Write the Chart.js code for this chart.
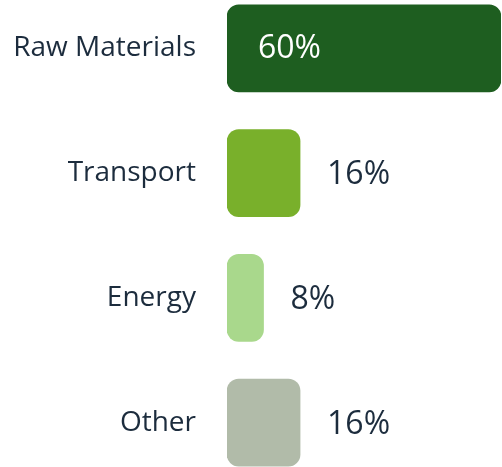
<!DOCTYPE html>
<html>
<head>
<meta charset="utf-8">
<script src="https://cdn.jsdelivr.net/npm/chart.js@4"></script>
<style>
  html, body { margin: 0; padding: 0; background: #fff; overflow: hidden; }
  #wrap { position: absolute; left: 0; top: -14px; width: 502px; height: 499px; }
</style>
</head>
<body>
<div id="wrap"><canvas id="chart"></canvas></div>
<script>
const categories = ['Raw Materials', 'Transport', 'Energy', 'Other'];
const shares = [60, 16, 8, 16];
const barColors = ['#1e5e20', '#79b02b', '#a9d88c', '#b1bba9'];

const textDark = '#1c2c3d';

// draws the percentage next to (or inside) each bar
const valueLabels = {
  id: 'valueLabels',
  afterDatasetsDraw(chart) {
    const ctx = chart.ctx;
    const meta = chart.getDatasetMeta(0);
    const max = Math.max(...shares);
    ctx.save();
    ctx.font = '32px "Open Sans"';
    ctx.textBaseline = 'middle';
    ctx.textAlign = 'left';
    meta.data.forEach(function (bar, i) {
      const v = shares[i];
      const txt = v + '%';
      if (v === max) {
        ctx.fillStyle = '#ffffff';
        ctx.fillText(txt, bar.base + 31, bar.y + 1);
      } else {
        ctx.fillStyle = textDark;
        ctx.fillText(txt, bar.x + 27, bar.y + 2);
      }
    });
    ctx.restore();
  }
};

const data = {
  labels: categories,
  datasets: [{
    data: shares,
    backgroundColor: barColors,
    borderRadius: 12,
    borderSkipped: false,
    barThickness: 87
  }]
};

const config = {
  type: 'bar',
  data: data,
  options: {
    indexAxis: 'y',
    responsive: true,
    maintainAspectRatio: false,
    animation: false,
    layout: { padding: { left: 0, right: 1, top: 0, bottom: 0 } },
    plugins: {
      legend: { display: false },
      tooltip: { enabled: false }
    },
    scales: {
      x: {
        display: false,
        min: 0,
        max: 60
      },
      y: {
        grid: { display: false, drawTicks: false },
        border: { display: false },
        ticks: {
          color: textDark,
          padding: 31,
          font: { family: 'Open Sans', size: 28 }
        },
        afterFit(scale) {
          scale.width = 227;
          scale.paddingTop = 0;
          scale.paddingBottom = 0;
        }
      }
    }
  },
  plugins: [valueLabels]
};

new Chart(document.getElementById('chart').getContext('2d'), config);
</script>
</body>
</html>
